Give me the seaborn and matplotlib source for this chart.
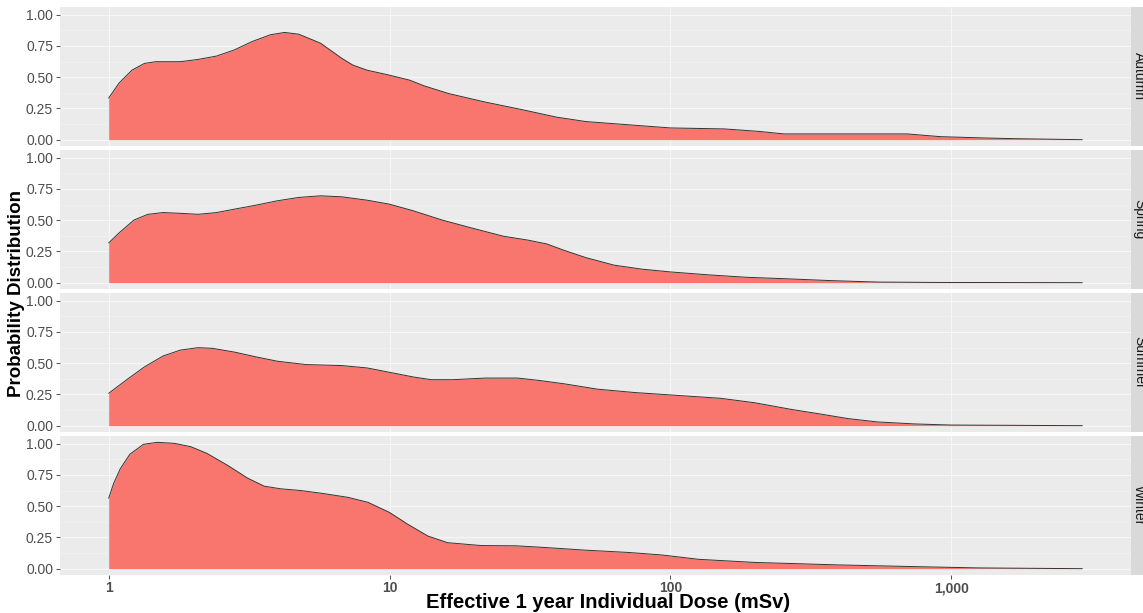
import numpy as np
import pandas as pd
import matplotlib
matplotlib.use("Agg")
import matplotlib.pyplot as plt
from matplotlib.ticker import NullLocator, FixedLocator
import seaborn as sns

# Smoothed probability density of the 1-year individual dose, per season
seasons = ["Autumn", "Spring", "Summer", "Winter"]

autumn_dose = [1.0, 1.09, 1.21, 1.34, 1.47, 1.8, 2.08, 2.42, 2.8, 3.24, 3.76, 4.23, 4.75,
               5.68, 6.76, 7.4, 8.32, 10, 11.8, 13.3, 16.3, 21.9, 29.4, 39.4, 50, 64.7,
               100, 156, 205, 254, 697, 918, 1346, 1690, 2930]
autumn_dens = [0.333, 0.454, 0.556, 0.61, 0.624, 0.624, 0.642, 0.669, 0.718, 0.785, 0.839,
               0.858, 0.844, 0.772, 0.651, 0.597, 0.556, 0.516, 0.476, 0.43, 0.368, 0.301,
               0.242, 0.18, 0.145, 0.126, 0.094, 0.086, 0.067, 0.046, 0.046, 0.024, 0.013,
               0.008, 0.0]

spring_dose = [1.0, 1.09, 1.23, 1.38, 1.56, 1.8, 2.08, 2.42, 2.8, 3.34, 3.98, 4.75, 5.68,
               6.76, 8.32, 10, 12.2, 15.4, 19.5, 25.4, 31.2, 36.3, 41.7, 50.1, 63.1, 79.4,
               100, 138, 187, 254, 378, 546, 863, 2930]
spring_dens = [0.318, 0.399, 0.501, 0.547, 0.561, 0.555, 0.547, 0.561, 0.588, 0.62, 0.655,
               0.682, 0.695, 0.687, 0.66, 0.628, 0.574, 0.501, 0.439, 0.372, 0.34, 0.31,
               0.26, 0.2, 0.14, 0.108, 0.086, 0.062, 0.043, 0.032, 0.016, 0.005, 0.002, 0.0]

summer_dose = [1.0, 1.16, 1.34, 1.56, 1.8, 2.08, 2.34, 2.8, 3.34, 3.98, 5.04, 6.76, 8.32,
               10, 12.2, 14.1, 16.8, 21.9, 28.6, 34.1, 41.9, 55.1, 74.8, 100, 151, 199,
               270, 345, 428, 546, 740, 1000, 1585, 2930]
summer_dens = [0.259, 0.368, 0.47, 0.557, 0.605, 0.624, 0.619, 0.589, 0.551, 0.516, 0.489,
               0.481, 0.462, 0.427, 0.389, 0.368, 0.368, 0.381, 0.381, 0.362, 0.335, 0.292,
               0.265, 0.246, 0.219, 0.184, 0.13, 0.092, 0.057, 0.03, 0.014, 0.005, 0.003, 0.0]

winter_dose = [1.0, 1.04, 1.1, 1.19, 1.33, 1.49, 1.71, 1.96, 2.24, 2.65, 3.12, 3.58, 4.1,
               4.84, 5.7, 7.1, 8.38, 10, 11.6, 13.7, 16.1, 21.2, 28.2, 35.5, 50, 70.8, 93,
               126, 200, 398, 794, 1259, 2930]
winter_dens = [0.563, 0.679, 0.8, 0.916, 0.995, 1.011, 1.003, 0.976, 0.922, 0.827, 0.725,
               0.66, 0.639, 0.625, 0.604, 0.571, 0.531, 0.45, 0.356, 0.261, 0.208, 0.185,
               0.183, 0.17, 0.148, 0.13, 0.11, 0.075, 0.05, 0.03, 0.015, 0.006, 0.0]

x_ticks = [1, 10, 100, 1000]
x_tick_labels = ["1", "10", "100", "1,000"]
y_ticks = [0.0, 0.25, 0.5, 0.75, 1.0]
y_tick_labels = ["0.00", "0.25", "0.50", "0.75", "1.00"]

frames = []
for name, dose, dens in [("Autumn", autumn_dose, autumn_dens),
                         ("Spring", spring_dose, spring_dens),
                         ("Summer", summer_dose, summer_dens),
                         ("Winter", winter_dose, winter_dens)]:
    frames.append(pd.DataFrame({"season": name, "dose": dose, "density": dens}))
df = pd.DataFrame(pd.concat(frames, ignore_index=True))

sns.set_theme(style="darkgrid")
plt.rcParams["font.family"] = ["Liberation Sans", "DejaVu Sans"]

W, H = 1143, 613
fig = plt.figure(figsize=(W / 100, H / 100), dpi=100)
fig.patch.set_facecolor("white")

left_px, right_px = 60, 1131
strip_w = 20
top_px, bottom_px = 7, 575
gap = 4
panel_h = (bottom_px - top_px - gap * 3) / 4

fill_col = "#F8766D"
xmin_log, xmax_log = np.log10(1.0), np.log10(2930)
xpad = 0.05 * (xmax_log - xmin_log)
ymax = 1.011
ypad = 0.05 * ymax

for i, season in enumerate(seasons):
    y_top = top_px + i * (panel_h + gap)
    ax = fig.add_axes([left_px / W, 1 - (y_top + panel_h) / H,
                       (right_px - left_px) / W, panel_h / H])
    ax.set_facecolor("#EBEBEB")
    d = df[df["season"] == season]
    ax.fill_between(d["dose"], 0, d["density"], color=fill_col, lw=0, zorder=2)
    sns.lineplot(data=d, x="dose", y="density", ax=ax, color="#333333", lw=0.7,
                 estimator=None, sort=False, zorder=3)
    ax.set_xscale("log")
    ax.set_xlim(10 ** (xmin_log - xpad), 10 ** (xmax_log + xpad))
    ax.set_ylim(-ypad, ymax + ypad)
    ax.xaxis.set_major_locator(FixedLocator(x_ticks))
    ax.xaxis.set_minor_locator(NullLocator())
    ax.yaxis.set_major_locator(FixedLocator(y_ticks))
    ax.yaxis.set_minor_locator(FixedLocator([0.125, 0.375, 0.625, 0.875]))
    ax.grid(which="major", color="#F7F7F7", lw=0.8)
    ax.grid(which="minor", color="#F4F4F4", lw=0.45)
    ax.set_axisbelow(True)
    for s in ax.spines.values():
        s.set_visible(False)
    ax.set_xlabel("")
    ax.set_ylabel("")
    ax.set_yticklabels(y_tick_labels)
    ax.tick_params(axis="y", which="major", length=3, width=0.6, color="#333333",
                   labelsize=10, labelcolor="#4D4D4D", pad=2, left=True)
    ax.tick_params(axis="y", which="minor", length=0)
    if i == 3:
        ax.set_xticklabels(x_tick_labels)
        ax.tick_params(axis="x", which="major", length=3, width=0.6, color="#333333",
                       labelsize=10, labelcolor="#4D4D4D", pad=1.5, bottom=True)
        for lab in ax.get_xticklabels():
            lab.set_fontweight("bold")
    else:
        ax.tick_params(axis="x", which="major", length=0, labelbottom=False)

    # facet strip on the right
    sax = fig.add_axes([right_px / W, 1 - (y_top + panel_h) / H, strip_w / W, panel_h / H])
    sax.set_facecolor("#D9D9D9")
    sax.set_xticks([])
    sax.set_yticks([])
    sax.grid(False)
    for s in sax.spines.values():
        s.set_visible(False)
    sax.text(0.4, 0.5, season, rotation=-90, ha="center", va="center",
             fontsize=10, color="#1A1A1A", transform=sax.transAxes)

fig.text(608 / W, 1 - 612.5 / H, "Effective 1 year Individual Dose (mSv)",
         ha="center", va="bottom", fontsize=14.5, fontweight="bold", color="black")
fig.text(17 / W, 1 - 294 / H, "Probability Distribution", rotation=90,
         ha="center", va="center", fontsize=13.5, fontweight="bold", color="black")

fig.savefig("out.png", dpi=100, facecolor="white")
